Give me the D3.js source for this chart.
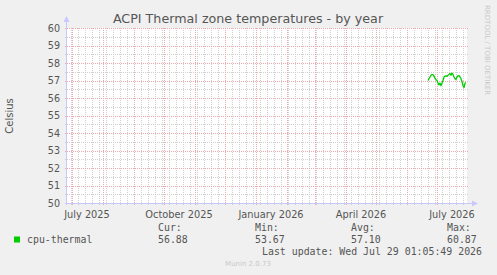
<!DOCTYPE html>
<html>
<head>
<meta charset="utf-8">
<script src="https://cdn.jsdelivr.net/npm/d3@7"></script>
<style>
  html, body { margin: 0; padding: 0; background: #f0f0f0; }
  svg { display: block; }
  text { font-family: "DejaVu Sans", sans-serif; }
  .mono { font-family: "DejaVu Sans Mono", monospace; }
</style>
</head>
<body>
<div id="chart"></div>
<script>
'use strict'

// daily cpu-thermal readings (Celsius), first day 2026-06-22
const firstDay = new Date(2026, 5, 22);
const temps = [
  57.00, 57.10, 57.20, 57.30, 57.34, 57.33, 57.25, 57.13, 57.05, 57.00,
  56.85, 56.75, 56.85, 56.70, 56.85, 57.00, 57.20, 57.25, 57.26, 57.24,
  57.30, 57.35, 57.40, 57.30, 57.42, 57.35, 57.20, 57.10, 57.05, 57.20,
  57.27, 57.28, 57.20, 57.10, 56.95, 56.70, 56.60, 56.84, 56.88
];

const yTicks = [50, 51, 52, 53, 54, 55, 56, 57, 58, 59, 60];
const xLabels = ['July 2025', 'October 2025', 'January 2026', 'April 2026', 'July 2026'];
const legendHeads = ['Cur:', 'Min:', 'Avg:', 'Max:'];
const legendVals = ['56.88', '53.67', '57.10', '60.87'];
const lastUpdate = 'Last update: Wed Jul 29 01:05:49 2026';

const width = 497;
const height = 275;
const plot = { left: 67, right: 467, top: 28, bottom: 203 };

const svg = d3.select('#chart').append('svg')
  .attr('width', width)
  .attr('height', height);

svg.append('rect')
  .attr('width', width)
  .attr('height', height)
  .attr('fill', '#f0f0f0');

svg.append('rect')
  .attr('x', plot.left)
  .attr('y', plot.top)
  .attr('width', plot.right - plot.left)
  .attr('height', plot.bottom - plot.top)
  .attr('fill', '#ffffff');

const x = d3.scaleTime()
  .domain([new Date(2025, 5, 26), new Date(2026, 6, 31)])
  .range([plot.left, plot.right]);

const y = d3.scaleLinear()
  .domain([50, 60])
  .range([plot.bottom, plot.top]);

const px = v => Math.round(v) + 0.5;

const grid = svg.append('g').attr('shape-rendering', 'crispEdges');

// minor grid: half units and weeks
const halfTicks = d3.range(50.5, 60, 1);
grid.selectAll('.ymin')
  .data(halfTicks)
  .join('line')
  .attr('x1', plot.left - 2).attr('x2', plot.right + 2)
  .attr('y1', d => px(y(d))).attr('y2', d => px(y(d)))
  .attr('stroke', '#d0d0d0')
  .attr('stroke-dasharray', '1,1');

const weeks = d3.timeMonday.range(x.domain()[0], x.domain()[1]);
grid.selectAll('.xmin')
  .data(weeks)
  .join('line')
  .attr('x1', d => px(x(d))).attr('x2', d => px(x(d)))
  .attr('y1', plot.top).attr('y2', plot.bottom + 2)
  .attr('stroke', '#d0d0d0')
  .attr('stroke-dasharray', '1,1');

// major grid: whole units and months
grid.selectAll('.ymaj')
  .data(yTicks)
  .join('line')
  .attr('x1', plot.left - 2).attr('x2', plot.right + 2)
  .attr('y1', d => px(y(d))).attr('y2', d => px(y(d)))
  .attr('stroke', '#eeaaaa')
  .attr('stroke-dasharray', '1,1');

const months = d3.timeMonth.range(x.domain()[0], x.domain()[1]);
grid.selectAll('.xmaj')
  .data(months)
  .join('line')
  .attr('x1', d => px(x(d))).attr('x2', d => px(x(d)))
  .attr('y1', plot.top).attr('y2', plot.bottom + 2)
  .attr('stroke', '#eeaaaa')
  .attr('stroke-dasharray', '1,1');

// axes with arrows
const axisColor = '#c8c8ff';
grid.append('line')
  .attr('x1', plot.left - 0.5).attr('x2', plot.left - 0.5)
  .attr('y1', plot.bottom + 2).attr('y2', plot.top - 6)
  .attr('stroke', axisColor);
grid.append('line')
  .attr('x1', plot.left - 2).attr('x2', plot.right + 5)
  .attr('y1', plot.bottom + 0.5).attr('y2', plot.bottom + 0.5)
  .attr('stroke', axisColor);
svg.append('path')
  .attr('d', `M${plot.left - 3.5},${plot.top - 6}L${plot.left - 0.5},${plot.top - 12}L${plot.left + 2.5},${plot.top - 6}Z`)
  .attr('fill', axisColor);
svg.append('path')
  .attr('d', `M${plot.right + 5},${plot.bottom - 2.5}L${plot.right + 11},${plot.bottom + 0.5}L${plot.right + 5},${plot.bottom + 3.5}Z`)
  .attr('fill', axisColor);

// y labels
svg.selectAll('.ylab')
  .data(yTicks)
  .join('text')
  .attr('x', plot.left - 7)
  .attr('y', d => y(d) + 3.5)
  .attr('text-anchor', 'end')
  .attr('font-size', '9.6px')
  .attr('fill', '#555555')
  .text(d => d);

// x labels, centered half a month after the quarter start
const quarterStarts = d3.timeMonth.every(3).range(new Date(2025, 6, 1), x.domain()[1]);
svg.selectAll('.xlab')
  .data(quarterStarts)
  .join('text')
  .attr('x', d => x(d) + 15)
  .attr('y', plot.bottom + 15)
  .attr('text-anchor', 'middle')
  .attr('font-size', '9.8px')
  .attr('fill', '#555555')
  .text((d, i) => xLabels[i]);

// data line
const line = d3.line()
  .x((d, i) => x(d3.timeDay.offset(firstDay, i)))
  .y(d => y(d));

svg.append('path')
  .datum(temps)
  .attr('d', line)
  .attr('fill', 'none')
  .attr('stroke', '#00cc00')
  .attr('stroke-width', 1.3)
  .attr('stroke-linejoin', 'round');

// title and side texts
svg.append('text')
  .attr('x', 248)
  .attr('y', 23)
  .attr('text-anchor', 'middle')
  .attr('font-size', '12.7px')
  .attr('fill', '#555555')
  .text('ACPI Thermal zone temperatures - by year');

svg.append('text')
  .attr('transform', 'translate(13, 116) rotate(-90)')
  .attr('text-anchor', 'middle')
  .attr('font-size', '10px')
  .attr('fill', '#555555')
  .text('Celsius');

svg.append('text')
  .attr('transform', 'translate(485, 5) rotate(90)')
  .attr('text-anchor', 'start')
  .attr('font-size', '7px')
  .attr('fill', '#c8c8c8')
  .text('RRDTOOL / TOBI OETIKER');

// legend
svg.append('rect')
  .attr('x', 14).attr('y', 236.5)
  .attr('width', 6).attr('height', 6)
  .attr('fill', '#00cc00');

svg.append('text')
  .attr('class', 'mono')
  .attr('x', 27).attr('y', 243)
  .attr('font-size', '9.9px')
  .attr('fill', '#555555')
  .text('cpu-thermal');

const legendX = [158, 255, 351, 447];
svg.selectAll('.lhead')
  .data(legendHeads)
  .join('text')
  .attr('class', 'mono')
  .attr('x', (d, i) => legendX[i])
  .attr('y', 231)
  .attr('font-size', '9.9px')
  .attr('fill', '#555555')
  .text(d => d);

svg.selectAll('.lval')
  .data(legendVals)
  .join('text')
  .attr('class', 'mono')
  .attr('x', (d, i) => legendX[i])
  .attr('y', 243)
  .attr('font-size', '9.9px')
  .attr('fill', '#555555')
  .text(d => d);

svg.append('text')
  .attr('class', 'mono')
  .attr('x', 482).attr('y', 255)
  .attr('text-anchor', 'end')
  .attr('font-size', '9.9px')
  .attr('fill', '#555555')
  .text(lastUpdate);

svg.append('text')
  .attr('x', 248).attr('y', 266)
  .attr('text-anchor', 'middle')
  .attr('font-size', '7px')
  .attr('fill', '#c8c8c8')
  .text('Munin 2.0.73');
</script>
</body>
</html>
